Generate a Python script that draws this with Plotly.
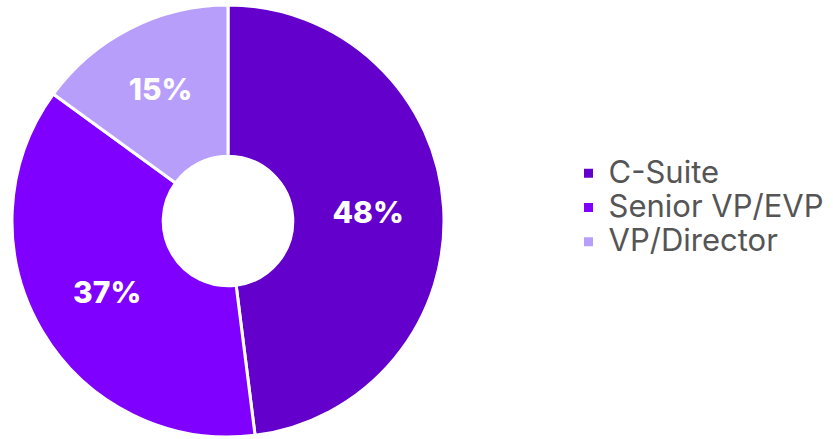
import plotly.graph_objects as go

# Seniority breakdown of respondents
levels = ["C-Suite", "Senior VP/EVP", "VP/Director"]
shares = [48, 37, 15]
colors = ["#6300CC", "#7F00FF", "#B89EFB"]

W, H = 833, 439

# Larger legend glyphs while keeping the row pitch of a 24px legend
legend_names = [f'<span style="font-size:31px">{name}</span>' for name in levels]

fig = go.Figure(
    go.Pie(
        labels=legend_names,
        values=shares,
        sort=False,
        direction="clockwise",
        rotation=0,
        hole=0.30,
        marker=dict(colors=colors, line=dict(color="white", width=3)),
        texttemplate="%{value}%",
        textposition="inside",
        insidetextorientation="horizontal",
        textfont=dict(family="Inter", size=30, color="white", weight=800),
        domain=dict(x=[12 / W, 444 / W], y=[2 / H, 434 / H]),
        hoverinfo="percent",
    )
)

fig.update_layout(
    width=W,
    height=H,
    margin=dict(l=0, r=0, t=0, b=0),
    paper_bgcolor="white",
    plot_bgcolor="white",
    showlegend=True,
    legend=dict(
        x=0.6825,
        y=0.527,
        xanchor="left",
        yanchor="middle",
        font=dict(family="Inter", size=24, color="#555555"),
        itemclick=False,
        tracegroupgap=0,
    ),
)

fig.write_html("out.html")
